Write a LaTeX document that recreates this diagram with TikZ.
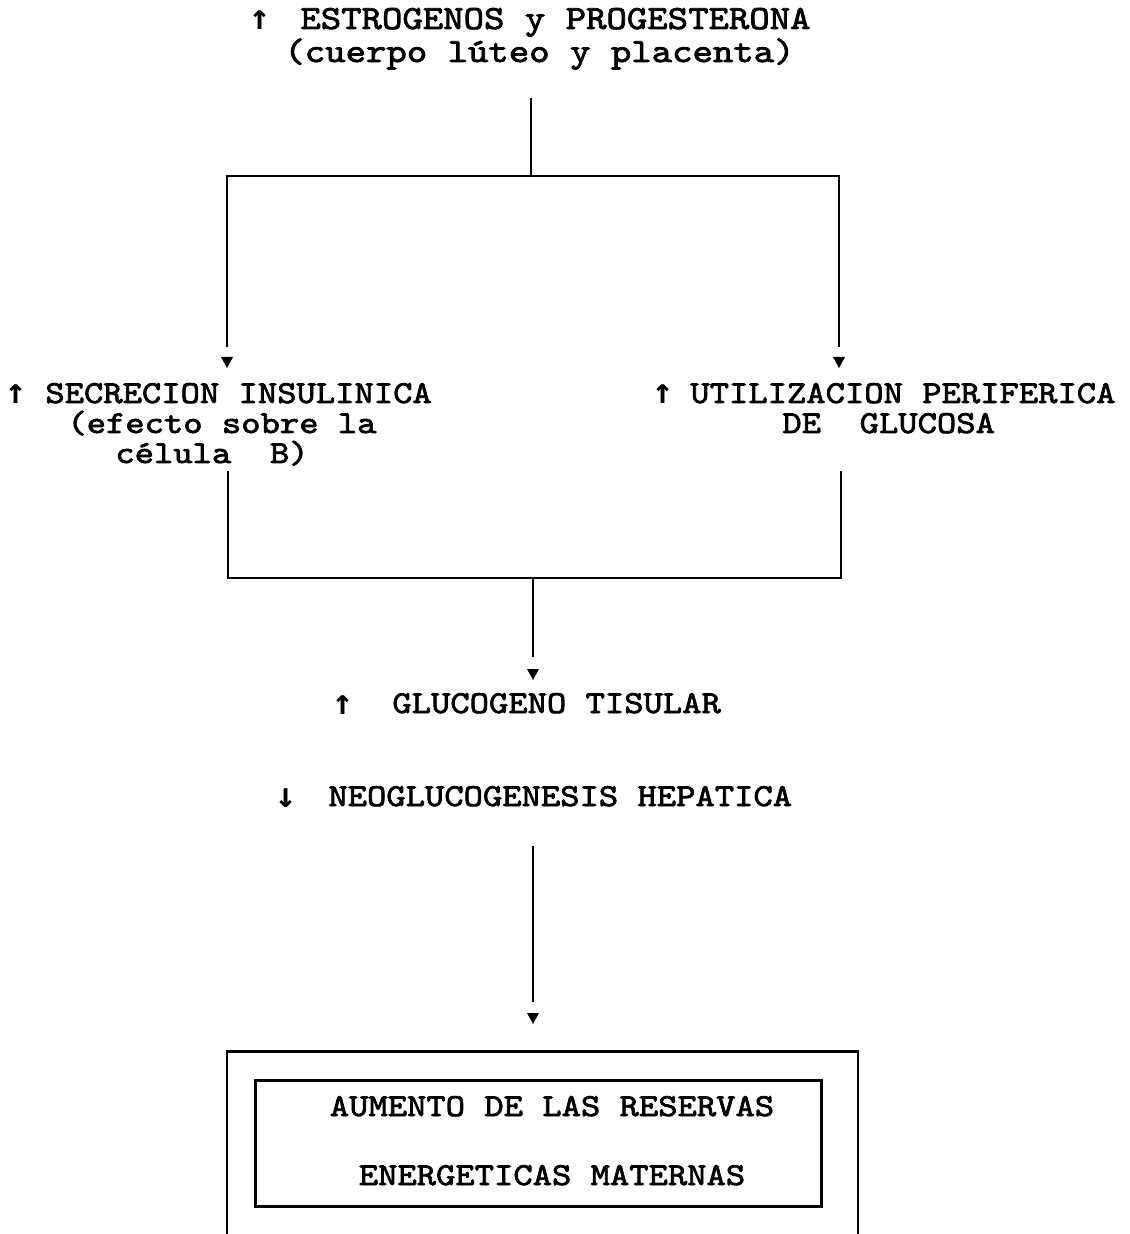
\documentclass[tikz,border=0pt]{standalone}
\usepackage{fontspec}
\setmainfont{Liberation Mono}
\newfontfamily\cour{lmmono10-regular.otf}[FakeBold=2.3,FakeStretch=1.15]
\newfontfamily\arrfont{DejaVu Sans Mono}
\newcommand{\dtri}[1]{\fill (#1) ++(-6,0) -- ++(12,0) -- ++(-6,11) -- cycle;}
\begin{document}
\begin{tikzpicture}[x=0.5pt,y=-0.5pt,
  every node/.style={inner sep=0pt, font=\fontsize{16}{19}\cour},
  lbl/.style={anchor=base west},
  ttl/.style={anchor=base west, font=\fontsize{16.9}{20}\cour},
  arw/.style={anchor=base, font=\fontsize{17.5}{20}\arrfont\bfseries},
  ctr/.style={anchor=base},
  conn/.style={line width=1.45pt, line join=miter},
  boxed/.style={draw, line width=1.45pt}]
\useasboundingbox (0,0) rectangle (1129,1234);
\clip (0,0) rectangle (1129,1234);
% title
\node[arw] (a0) at (260,30) {↑};
\node[ttl] (t1) at (300,29) {ESTROGENOS y PROGESTERONA};
\node[ttl] (t2) at (284,62) {(cuerpo lúteo y placenta)};
% left
\node[arw] (a1) at (16,404) {↑};
\node[lbl] (l1) at (45,403) {SECRECION INSULINICA};
\node[lbl] (l2) at (67,433) {(efecto sobre la};
\node[lbl] (l3) at (115,463) {célula\ \ B)};
% right
\node[arw] (a2) at (663,404) {↑};
\node[lbl] (r1) at (690,403) {UTILIZACION PERIFERICA};
\node[lbl] (r2) at (782,433) {DE\ \ GLUCOSA};
% middle
\node[arw] (a3) at (343,714) {↑};
\node[lbl] (g1) at (392,713) {GLUCOGENO TISULAR};
\node[arw] (a4) at (286,807) {↓};
\node[lbl] (n1) at (328,806) {NEOGLUCOGENESIS HEPATICA};
% boxes
\node[boxed, anchor=north, minimum width=315.5pt, minimum height=130pt] (outer) at (542.5,1050) {};
\node[boxed, anchor=north west, minimum width=283pt, minimum height=63pt] (inner) at (254,1079) {};
\node[ctr] (b1) at (552,1116) {AUMENTO DE LAS RESERVAS};
\node[ctr] (b2) at (552,1185) {ENERGETICAS MATERNAS};
% connectors
\coordinate (c0) at (531,98);
\coordinate (c1) at (531,176);
\coordinate (el) at (227,347);
\coordinate (er) at (839,347);
\draw[conn] (c0) -- (c1);
\draw[conn] (el) |- (c1) -| (er);
\coordinate (hl) at (227,357);
\coordinate (hr) at (839,357);
\dtri{hl}
\dtri{hr}
\coordinate (sl) at (228,471);
\coordinate (sr) at (841,471);
\coordinate (m0) at (533,578);
\coordinate (m1) at (533,657);
\draw[conn] (sl) |- (m0) -| (sr);
\draw[conn] (m0) -- (m1);
\coordinate (hm) at (533,669);
\dtri{hm}
\coordinate (n0) at (533,846);
\coordinate (n1e) at (533,1002);
\draw[conn] (n0) -- (n1e);
\coordinate (hb) at (533,1013);
\dtri{hb}
\end{tikzpicture}
\end{document}
